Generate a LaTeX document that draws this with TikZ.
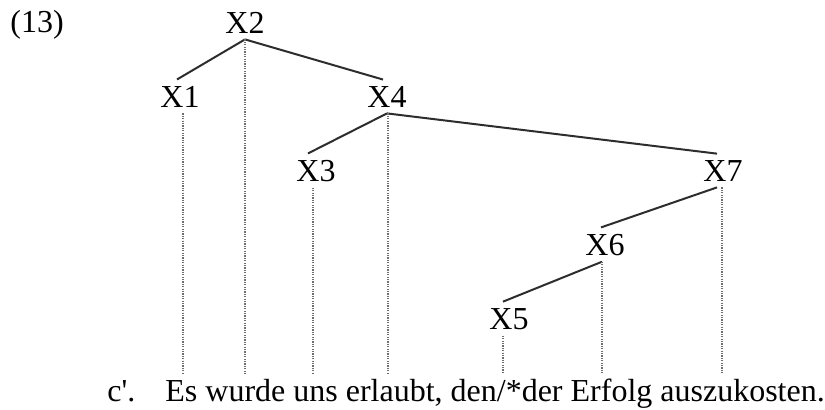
\documentclass[tikz,border=0pt]{standalone}
\usepackage{fontspec}
\setmainfont{Liberation Serif}
\definecolor{edgecol}{RGB}{45, 45, 45}
\definecolor{dotcol}{RGB}{110, 110, 110}
\tikzset{
	cat/.style={anchor=base, inner sep=3pt, font=\fontsize{16pt}{18pt}\selectfont},
	branch/.style={draw=edgecol, line width=1pt},
	dotline/.style={draw=dotcol, line width=0.6pt, dash pattern=on 0.6pt off 0.6pt}
}

\begin{document}
\begin{tikzpicture}[x=0.5pt, y=-0.5pt]
					\useasboundingbox (0,0) rectangle (825,409);
					\node[cat, anchor=base west] at (4,32)   (num) {(13)};
					\node[cat] at (245,33)  (x2) {X2};
					\node[cat] at (180,107) (x1) {X1};
					\node[cat] at (387,107) (x4) {X4};
					\node[cat] at (316,181) (x3) {X3};
					\node[cat] at (723,181) (x7) {X7};
					\node[cat] at (605,255) (x6) {X6};
					\node[cat] at (509,329) (x5) {X5};
					\node[cat, anchor=base west] at (101,401) (lbl) {c\textquotesingle.};
					\node[cat, anchor=base west] at (159,401) (sent) {Es wurde uns erlaubt, den/*der Erfolg auszukosten.};
					\coordinate (bottom) at (0,374);
					% branches
					\draw[branch] (x2.south) -- ([xshift=-1.5pt]x1.north);
					\draw[branch] (x2.south) -- ([xshift=-2pt]x4.north);
					\draw[branch] (x4.south) -- ([xshift=-4pt]x3.north);
					\draw[branch] (x4.south) -- ([xshift=-3pt]x7.north);
					\draw[branch] ([xshift=-3pt]x7.south) -- ([xshift=-2pt]x6.north);
					\draw[branch] ([xshift=-1.5pt]x6.south) -- ([xshift=-3pt]x5.north);
					% projection lines
					\foreach \n/\s in {x2/0, x1/1.5, x4/0.5, x3/-1.5, x7/-0.5, x6/-1.5, x5/-3}
						\draw[dotline] ([xshift=\s pt]\n.south) -- ([xshift=\s pt]\n.south |- bottom);
				\end{tikzpicture}
\end{document}
